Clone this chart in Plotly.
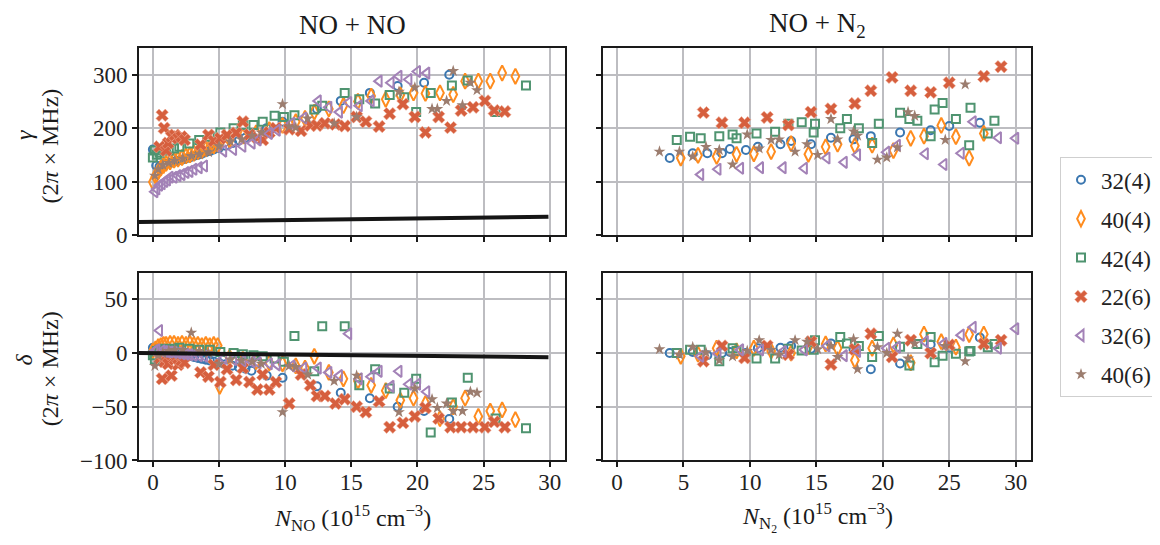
import plotly.graph_objects as go

# ---------------- data ----------------
names = ["32(4)", "40(4)", "42(4)", "22(6)", "32(6)", "40(6)"]

# NO + NO  (x in 1e15 cm^-3, gamma and delta in 2pi x MHz)
blue_x_no = [0.0, 0.25, 0.5, 0.75, 1.0, 1.3, 1.6, 1.9, 2.2, 2.5, 2.8, 3.1, 3.4, 3.7, 4.0, 4.3, 4.6, 5.0, 5.5, 6.0, 6.5, 7.0, 7.45, 8.6, 9.8, 12.4, 14.2, 16.4, 18.5, 20.5, 22.4]
blue_g_no = [160, 130, 128, 131, 133, 135, 137, 139, 141, 143, 145, 148, 150, 152, 155, 157, 160, 163, 167, 172, 177, 182, 187, 200, 212, 236, 251, 266, 279, 285, 300]
blue_d_no = [5, 4.3, 3.6, 2.9, 2.2, 1.4, 0.5, -0.3, -1.2, -2, -2.8, -3.7, -4.5, -5.4, -6.2, -7, -7.9, -9, -10.4, -11.8, -13.2, -14.6, -16.4, -21, -23, -31, -37, -42, -50, -54, -61.5]

orange_x_no = [0.0, 0.2, 0.4, 0.6, 0.8, 1.0, 1.3, 1.6, 1.9, 2.2, 2.5, 2.8, 3.1, 3.4, 3.7, 4.0, 4.3, 4.6, 4.9, 5.05, 5.8, 6.8, 7.8, 8.8, 9.8, 10.8, 11.5, 12.2, 13.3, 14.4, 15.5, 16.5, 17.6, 18.7, 19.7, 20.6, 21.7, 22.7, 23.6, 24.6, 25.5, 26.4, 27.4]
orange_g_no = [99, 110, 118, 125, 130, 134, 137, 140, 142, 145, 148, 150, 153, 156, 158, 161, 164, 167, 170, 172, 178, 185, 191, 197, 205, 212, 218, 230, 236, 242, 250, 260, 254, 262, 266, 265, 266, 263, 288, 288, 288, 303, 297]
orange_d_no = [2, 4, 6, 7, 8, 8, 9, 9, 8, 9, 8, 9, 8, 8, 7, 8, 7, 8, 7, -31, -4, -6, -8, -9, -10, -12, -14, -3, -18, -24, -26, -30, -35, -44, -42, -47, -61, -50, -42, -59, -54, -53, -62]

green_x_no = [0.0, 0.15, 0.3, 0.5, 0.7, 0.9, 1.2, 1.6, 2.0, 2.75, 3.5, 4.3, 5.1, 6.1, 6.8, 7.6, 8.3, 9.2, 9.9, 10.7, 12.2, 12.8, 14.5, 15.6, 16.8, 17.9, 19.0, 19.9, 21.0, 22.6, 23.8, 25.9, 28.2]
green_g_no = [145, 158, 150, 154, 160, 163, 158, 162, 165, 171, 178, 184, 192, 200, 206, 206, 212, 223, 221, 224, 235, 242, 266, 254, 246, 262, 258, 230, 266, 280, 289, 230, 280]
green_d_no = [-2, -6, 2, 3, 3, 4, 3, 4, 5, 4, 3, 3, 1, 0, -1, -2, -3, -5, -8, 16, -17, 25, 25, -30, -15, -33, -37, -24, -74, -46, -23, -61, -70]

red_x_no = [0.5, 0.7, 0.85, 1.0, 1.15, 1.4, 1.65, 1.9, 2.15, 2.4, 3.6, 4.2, 4.6, 5.1, 5.6, 6.3, 6.8, 7.3, 7.9, 8.3, 8.8, 9.3, 10.3, 11.2, 11.9, 12.4, 13.0, 13.8, 14.5, 15.4, 16.1, 17.1, 17.9, 18.9, 19.8, 20.6, 21.6, 22.5, 23.3, 24.2, 25.1, 25.8, 26.6]
red_g_no = [165, 224, 200, 158, 172, 184, 187, 181, 184, 178, 169, 187, 176, 181, 187, 191, 212, 188, 182, 178, 192, 200, 198, 195, 205, 205, 209, 207, 204, 221, 212, 203, 227, 245, 221, 192, 221, 201, 233, 239, 251, 233, 231]
red_d_no = [-5, -24, -8, -3, -10, -21, -6, -11, -7, -9, -18, -22, -11, -27, -15, -25, -14, -27, -34, -20, -34, -27, -47, -20, -30, -40, -40, -47, -43, -50, -55, -45, -69, -65, -59, -51, -61, -69, -69, -69, -69, -64, -69]

purple_x_no = [0.15, 0.3, 0.5, 0.7, 0.9, 1.1, 1.3, 1.6, 1.9, 2.2, 2.5, 2.8, 3.1, 3.5, 3.9, 5.35, 6.1, 6.8, 7.5, 7.95, 8.8, 9.4, 10.5, 11.4, 12.5, 13.3, 14.1, 14.8, 15.6, 16.5, 17.1, 18.0, 18.6, 19.35, 20.0, 20.7]
purple_g_no = [81, 86, 93, 96, 100, 103, 108, 108, 111, 113, 117, 119, 123, 126, 129, 157, 160, 166, 172, 178, 190, 196, 209, 219, 251, 239, 230, 248, 242, 251, 288, 285, 297, 291, 306, 303]
purple_d_no = [2, 3, 21, 2, 1.5, 1, 1, 0.5, 0, -0.5, -1, -1.5, -2, -2.5, -3, -5, -6, -7, -8, -9, -10, -11, -12, -14, -14, -18, -21, 18, -24, -22, -17, -31, -17, -29, -29, -36]

brown_x_no = [0.15, 0.4, 0.75, 1.2, 1.65, 2.25, 2.9, 3.5, 4.2, 5.0, 5.85, 6.7, 7.5, 8.2, 9.8, 10.3, 10.8, 11.7, 13.7, 15.4, 18.6, 19.8, 21.1, 21.5, 22.2, 22.7, 23.4, 24.0, 24.5]
brown_g_no = [111, 123, 131, 135, 139, 143, 148, 151, 155, 166, 175, 179, 186, 192, 245, 203, 201, 218, 209, 221, 268, 276, 236, 236, 251, 307, 243, 285, 271]
brown_d_no = [-12, -2, 0, 2, 3, 3, 19, 2, 0, -10, -6, -7, -8, -10, -55, -12, -13, -20, -26, -21, -55, -33, -43, -51, -47, -54, -54, -36, -37]

# NO + N2
blue_x_n2 = [3.97, 5.7, 6.8, 7.9, 8.5, 9.7, 10.6, 12.3, 13.1, 14.6, 16.1, 17.8, 19.1, 21.3, 23.6, 25.0, 27.3]
blue_g_n2 = [144, 153, 153, 153, 161, 159, 165, 170, 176, 170, 182, 179, 185, 192, 196, 204, 210]
blue_d_n2 = [0, 1, -2, 0, 1, 0, 4.5, 5, 6.7, 4, 9, 3, -15, -9.7, 8, 5, 14.5]

orange_x_n2 = [4.8, 6.1, 7.5, 9.0, 10.3, 11.6, 13.1, 14.4, 15.7, 16.6, 17.9, 19.2, 20.8, 22.1, 23.1, 24.4, 25.5, 26.5, 27.6]
orange_g_n2 = [144, 149, 147, 151, 152, 156, 171, 151, 165, 170, 167, 168, 158, 181, 185, 205, 184, 144, 190]
orange_d_n2 = [-3, -1, 4.5, 2, 4.5, 2, 0, 6, 8.5, 4.5, -6.7, 4.5, 7.6, -9, 17.6, 10.6, 5.5, 17.3, 17.6]

green_x_n2 = [4.5, 5.5, 6.3, 7.7, 8.7, 9.0, 10.5, 11.9, 12.9, 13.9, 14.8, 14.9, 16.8, 17.3, 18.2, 19.2, 19.7, 21.3, 22.0, 22.6, 23.6, 23.9, 24.5, 25.5, 26.5, 26.6, 27.9, 28.4]
green_g_n2 = [178, 184, 181, 185, 188, 181, 190, 193, 208, 211, 192, 208, 200, 217, 200, 172, 208, 229, 217, 214, 185, 235, 247, 217, 168, 238, 190, 214]
green_d_n2 = [0, 3, 3, -7.6, 4.5, 2, -5, -5, 4, 2.4, 3, 12, 15, 9, 6.7, -3.6, 15.8, 6, -11.5, 8.5, 15, -8.5, -2.4, -0.6, 1.5, 2, 5.5, 8.5]

red_x_n2 = [6.5, 7.9, 9.6, 11.3, 12.9, 14.6, 16.1, 17.9, 19.1, 20.7, 22.1, 23.6, 25.0, 27.6, 28.9]
red_g_n2 = [229, 210, 210, 220, 206, 230, 236, 246, 270, 295, 270, 267, 285, 297, 315]
red_d_n2 = [-7.6, 6.7, -4.5, 6.7, -1.5, 10.6, -10.6, 3.6, 18, -3.6, 12, 0, 7.6, 8.5, 12]

purple_x_n2 = [6.3, 7.6, 9.3, 10.8, 12.5, 14.1, 15.8, 17.1, 18.1, 20.3, 21.1, 23.2, 24.6, 25.9, 26.8, 28.7, 30.0]
purple_g_n2 = [113, 123, 125, 126, 126, 125, 144, 136, 150, 155, 168, 152, 132, 153, 212, 182, 181]
purple_d_n2 = [-3, -0.6, 3, 3, 1.5, 3, 6.7, -2.4, 1.5, 4.5, 5.5, 10.6, 9, 16.7, 24, 4.5, 22.7]

brown_x_n2 = [3.2, 4.7, 5.7, 6.7, 7.7, 8.7, 9.8, 10.7, 11.6, 12.2, 13.4, 14.3, 15.1, 16.1, 16.6, 17.8, 18.1, 19.6, 20.3, 21.1, 21.9, 22.4, 24.7, 26.2]
brown_g_n2 = [156, 156, 147, 165, 159, 132, 188, 162, 178, 179, 156, 170, 150, 217, 179, 194, 186, 141, 145, 164, 230, 223, 178, 282]
brown_d_n2 = [3.6, -1.5, 5.5, 0.6, -6.7, -3, 2, 12, 3, -1.5, 12, 10.6, 3.6, 6.7, -3.6, 13, -15, 5.5, 0, 18, -5, 9, 6.7, -7.6]

# reference (black) lines, NO + NO
line_x = [-1.05, 29.9]
line_gamma = [24.2, 34.1]
line_delta = [0.0, -3.9]

x_ticks = [0, 5, 10, 15, 20, 25, 30]
g_ticks = [0, 100, 200, 300]
d_ticks = [-100, -50, 0, 50]

# ---------------- style ----------------
colors = ["#3b77b0", "#ff8c1e", "#4f9470", "#d65f3e", "#a382b7", "#9c7d6f"]
symbols = ["circle-open", "diamond-tall-open", "square-open", "x", "triangle-left-open", "star"]
msizes = [8, 11, 8, 11, 10, 9]
lwidths = [2, 2, 2, 0.6, 2, 0]
FONT = "Liberation Serif"
W, H = 1160, 545

left_series = [(blue_x_no, blue_g_no, blue_d_no), (orange_x_no, orange_g_no, orange_d_no),
               (green_x_no, green_g_no, green_d_no), (red_x_no, red_g_no, red_d_no),
               (purple_x_no, purple_g_no, purple_d_no), (brown_x_no, brown_g_no, brown_d_no)]
right_series = [(blue_x_n2, blue_g_n2, blue_d_n2), (orange_x_n2, orange_g_n2, orange_d_n2),
                (green_x_n2, green_g_n2, green_d_n2), (red_x_n2, red_g_n2, red_d_n2),
                (purple_x_n2, purple_g_n2, purple_d_n2), (brown_x_n2, brown_g_n2, brown_d_n2)]

fig = go.Figure()
for i in range(6):
    xl, gl, dl = left_series[i]
    xr, gr, dr = right_series[i]
    lc = "#f0a890" if symbols[i] == "x" else colors[i]
    mk = dict(color=colors[i], size=msizes[i], symbol=symbols[i],
              line=dict(width=lwidths[i], color=lc))
    for xs, ys, xa, ya, show in [(xl, gl, "x", "y", True), (xr, gr, "x2", "y2", False),
                                 (xl, dl, "x3", "y3", False), (xr, dr, "x4", "y4", False)]:
        fig.add_trace(go.Scatter(x=xs, y=ys, xaxis=xa, yaxis=ya, mode="markers",
                                 name=names[i], legendgroup=names[i], showlegend=show,
                                 marker=mk, cliponaxis=True))

fig.add_trace(go.Scatter(x=line_x, y=line_gamma, xaxis="x", yaxis="y", mode="lines",
                         line=dict(color="#151515", width=4), showlegend=False))
fig.add_trace(go.Scatter(x=line_x, y=line_delta, xaxis="x3", yaxis="y3", mode="lines",
                         line=dict(color="#151515", width=4), showlegend=False))

def ax(domain, rng, ticks, labels, anchor, standoff=0):
    return dict(domain=domain, range=rng, tickvals=ticks, showticklabels=labels,
                anchor=anchor, showline=True, linecolor="#1a1a1a", linewidth=1.6,
                mirror=True, ticks="outside", ticklen=5, tickwidth=1.6, tickcolor="#1a1a1a",
                showgrid=True, gridcolor="#bdbdc1", gridwidth=2, zeroline=False,
                ticklabelstandoff=standoff,
                tickfont=dict(family=FONT, size=23, color="#222222"))

xl_dom = [131 / W, 557 / W]
xr_dom = [595 / W, 1023 / W]
yt_dom = [1 - 232.5 / H, 1 - 41 / H]
yb_dom = [1 - 463.5 / H, 1 - 271 / H]
xrng = [-1.05, 31.15]

fig.update_layout(
    width=W, height=H, margin=dict(l=0, r=0, t=0, b=0),
    paper_bgcolor="white", plot_bgcolor="white",
    xaxis=ax(xl_dom, xrng, x_ticks, False, "y"),
    xaxis2=ax(xr_dom, xrng, x_ticks, False, "y2"),
    xaxis3=ax(xl_dom, xrng, x_ticks, True, "y3", -5),
    xaxis4=ax(xr_dom, xrng, x_ticks, True, "y4", -5),
    yaxis=ax(yt_dom, [0, 350], g_ticks, True, "x"),
    yaxis2=ax(yt_dom, [0, 350], g_ticks, False, "x2"),
    yaxis3=ax(yb_dom, [-100, 75], d_ticks, True, "x3"),
    yaxis4=ax(yb_dom, [-100, 75], d_ticks, False, "x4"),
    legend=dict(x=1052 / W, y=1 - 153 / H, xanchor="left", yanchor="top",
                font=dict(family=FONT, size=23, color="#222222"),
                bordercolor="#cfcfcf", borderwidth=1, bgcolor="white",
                tracegroupgap=6, itemwidth=30),
    showlegend=True,
)

ann_font = dict(family=FONT, size=27, color="#1a1a1a")
tfont = dict(family=FONT, size=24, color="#1a1a1a")
xfont = dict(family=FONT, size=24, color="#1a1a1a")
annotations = [
    dict(text="NO + NO", x=(131 + 557) / 2 / W, y=1 - 17 / H, font=ann_font),
    dict(text="NO + N<sub>2</sub>", x=(595 + 1023) / 2 / W, y=1 - 17 / H, font=ann_font),
    dict(text="<i>γ</i>", x=16 / W, y=1 - 130 / H, textangle=-90, font=tfont),
    dict(text="(2<i>π</i> × MHz)", x=42 / W, y=1 - 142 / H, textangle=-90, font=tfont),
    dict(text="<i>δ</i>", x=16 / W, y=1 - 360 / H, textangle=-90, font=tfont),
    dict(text="(2<i>π</i> × MHz)", x=42 / W, y=1 - 370 / H, textangle=-90, font=tfont),
    dict(text="<i>N</i><sub>NO</sub> (10<sup>15</sup> cm<sup>−3</sup>)", x=(131 + 557) / 2 / W, y=1 - 522 / H, font=xfont),
    dict(text="<i>N</i><sub>N<sub>2</sub></sub> (10<sup>15</sup> cm<sup>−3</sup>)", x=(595 + 1023) / 2 / W, y=1 - 522 / H, font=xfont),
]
for a in annotations:
    a.update(xref="paper", yref="paper", showarrow=False, xanchor="center", yanchor="middle")
fig.update_layout(annotations=annotations)

fig.write_html("out.html")
